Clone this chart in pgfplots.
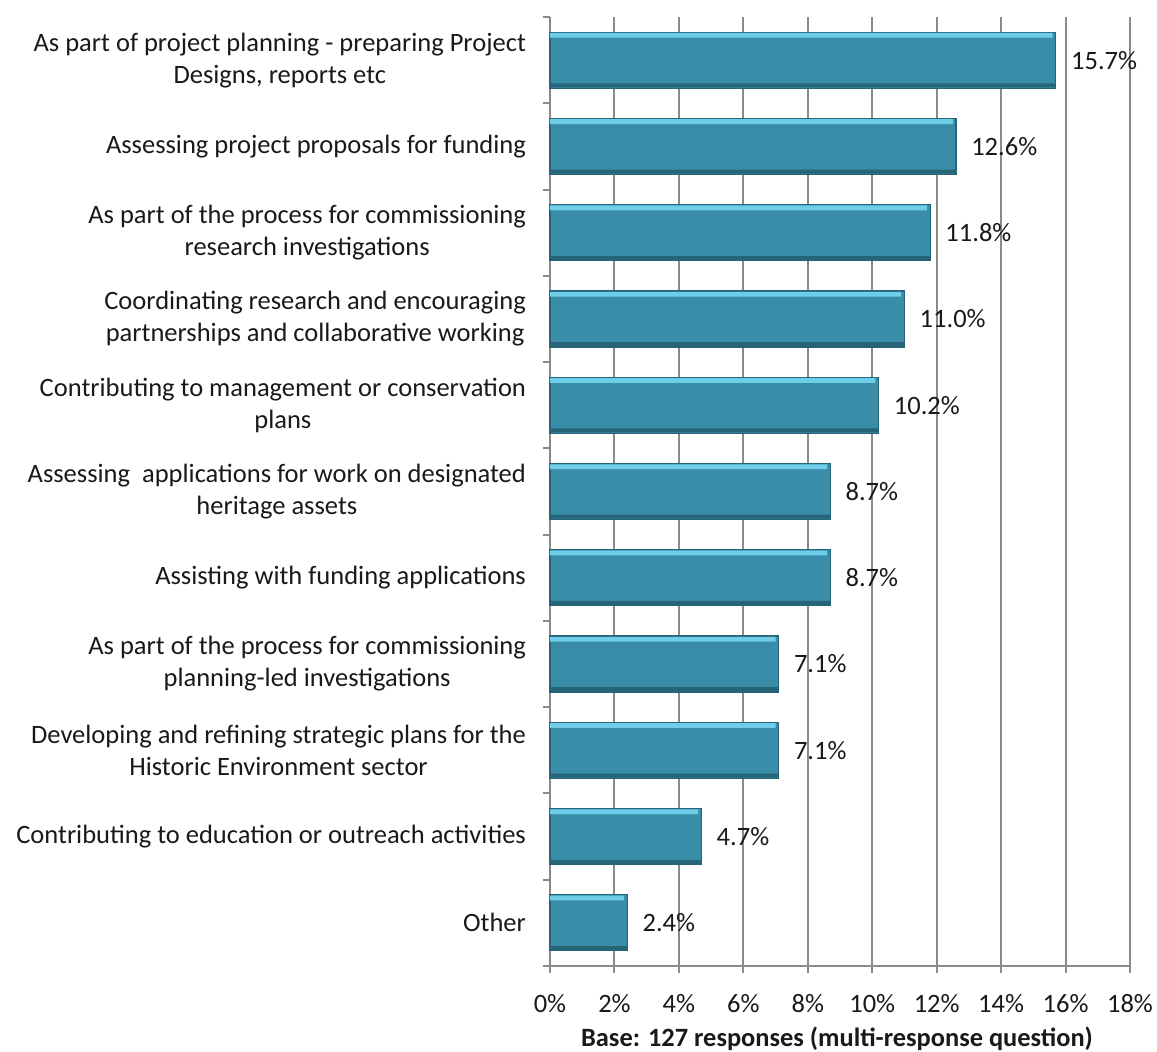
\documentclass[border=0pt]{standalone}
\usepackage{fontspec}
\setmainfont{Carlito}
\usepackage{pgfplots}
\pgfplotsset{compat=1.18}
\definecolor{barc}{RGB}{58,141,168}
\definecolor{barlight}{RGB}{110,205,232}
\definecolor{bardark}{RGB}{38,100,120}
\definecolor{gridc}{RGB}{138,138,138}
\definecolor{txt}{RGB}{25,25,25}
\begin{document}
\begin{tikzpicture}[x=1pt,y=1pt]
\useasboundingbox (0,0) rectangle (578.5,525.5);
\begin{axis}[
  at={(275pt,42.5pt)}, anchor=south west,
  scale only axis, width=290pt, height=474.5pt,
  xbar, bar width=28pt,
  xmin=0, xmax=18, ymin=-0.5, ymax=10.5,
  axis lines=left,
  axis line style={-, draw=gridc, line width=1pt},
  xtick={0,2,...,18},
  xticklabel={\pgfmathprintnumber{\tick}\%},
  /pgf/number format/assume math mode=true,
  ytick={-0.5,0.5,...,10.5},
  yticklabels={},
  tick align=outside,
  major tick length=3.5pt,
  tick style={draw=gridc, line width=1pt},
  xmajorgrids,
  grid style={draw=gridc, line width=1pt},
  tick label style={font=\fontsize{13.25}{16}\selectfont, text=txt},
  x tick label style={yshift=-7pt},
  extra y ticks={0,1,...,10},
  extra y tick style={major tick length=0pt, tick style={draw=none}},
  extra y tick labels={
    {Other},
    {Contributing to education or outreach activities},
    {Developing and refining strategic plans for the\\Historic Environment sector},
    {As part of the process for commissioning\\planning-led investigations},
    {Assisting with funding applications},
    {Assessing\ \ applications for work on designated\\heritage assets},
    {Contributing to management or conservation\\plans},
    {Coordinating research and encouraging\\partnerships and collaborative working},
    {As part of the process for commissioning\\research investigations},
    {Assessing project proposals for funding},
    {As part of project planning - preparing Project\\Designs, reports etc}},
  y tick label style={align=center, xshift=-8.5pt},
  clip=false,
]
\addplot[bar shift=0pt, draw=bardark, line width=0.6pt, fill=barc,
  nodes near coords={\pgfmathprintnumber[fixed,fixed zerofill,precision=1,assume math mode=true]{\pgfplotspointmeta}\%},
  every node near coord/.append style={font=\fontsize{13.25}{16}\selectfont, text=txt, xshift=4pt}]
  coordinates {
  (2.4,0) (4.7,1) (7.1,2) (7.1,3) (8.7,4) (8.7,5) (10.2,6) (11.0,7) (11.8,8) (12.6,9) (15.7,10)
};
\addplot[bar shift=12.4pt, bar width=2.4pt, draw=none, fill=barlight]
  coordinates {
  (2.3,0) (4.6,1) (7.0,2) (7.0,3) (8.6,4) (8.6,5) (10.1,6) (10.9,7) (11.7,8) (12.5,9) (15.6,10)
};
\addplot[bar shift=-12.6pt, bar width=2pt, draw=none, fill=bardark]
  coordinates {
  (2.4,0) (4.7,1) (7.1,2) (7.1,3) (8.7,4) (8.7,5) (10.2,6) (11.0,7) (11.8,8) (12.6,9) (15.7,10)
};
\end{axis}
\node[font=\bfseries\fontsize{13.2}{16}\selectfont, text=txt, anchor=base] at (418.5,2.5) {Base: 127 responses (multi-response question)};
\end{tikzpicture}
\end{document}
